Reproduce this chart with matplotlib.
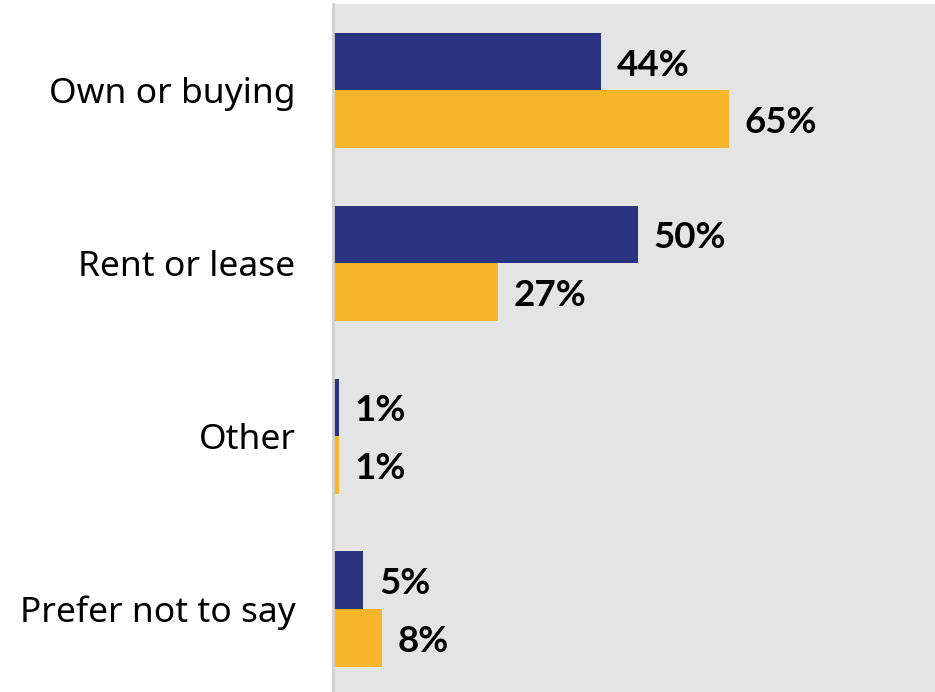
import matplotlib
matplotlib.use("Agg")
import matplotlib.pyplot as plt
import numpy as np

plt.rcParams['font.family'] = ['Noto Sans', 'DejaVu Sans']

categories = ["Own or buying", "Rent or lease", "Other", "Prefer not to say"]
series_a = [44, 50, 1, 5]
series_b = [65, 27, 1, 8]

navy = "#2B3480"
gold = "#F7B62A"

fig = plt.figure(figsize=(9.35, 6.92), dpi=100)
ax = fig.add_axes([333 / 935, 0, 1 - 333 / 935, 688 / 692])
ax.set_facecolor("#E4E4E4")

y = np.arange(len(categories))
h = 1 / 3
ax.barh(y - h / 2, series_a, height=h, color=navy)
ax.barh(y + h / 2, series_b, height=h, color=gold)

label_font = dict(family=['Lato', 'DejaVu Sans'], fontsize=26.5,
                  fontweight="bold", color="black")
for yi, a, b in zip(y, series_a, series_b):
    ax.text(a + 2.6, yi - h / 2 + 0.02, f"{a}%", va="center", ha="left", **label_font)
    ax.text(b + 2.6, yi + h / 2 + 0.02, f"{b}%", va="center", ha="left", **label_font)

ax.set_xlim(0, 98.8)
ax.set_ylim(3.48, -0.5)
ax.set_yticks(y)
ax.set_yticklabels(categories, fontsize=25.5)
ax.tick_params(axis="y", length=0, pad=27)
ax.set_xticks([])
for s in ["top", "right", "bottom"]:
    ax.spines[s].set_visible(False)
ax.spines["left"].set_color("#D0D0D0")
ax.spines["left"].set_linewidth(2)

fig.savefig("out.png", dpi=100)
